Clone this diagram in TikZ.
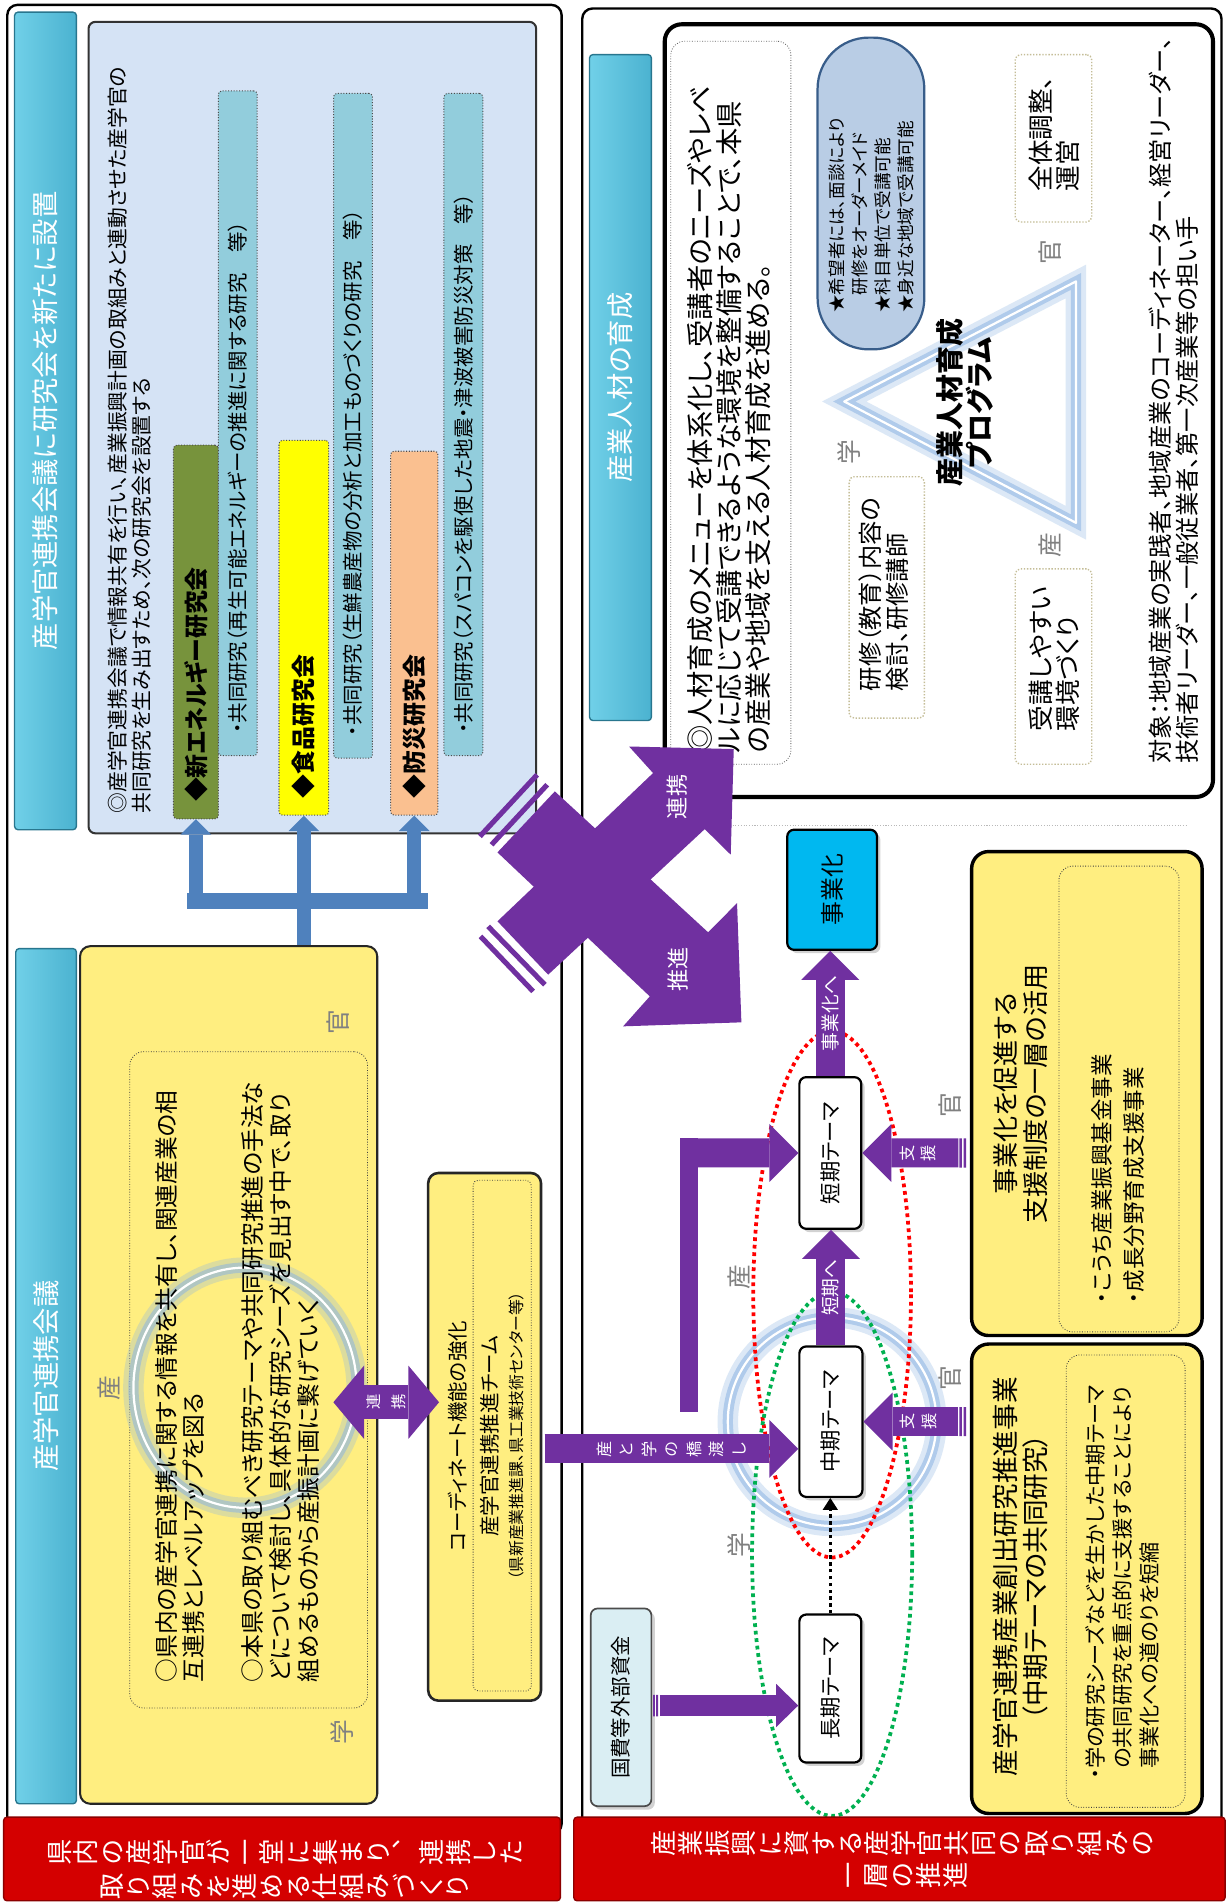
\documentclass[tikz,border=0pt]{standalone}
\usepackage{fontspec}
\setmainfont{Noto Sans CJK JP}[RawFeature=+palt]
\newfontfamily\tatefont{Noto Sans CJK JP}[RawFeature=+vert]
\usetikzlibrary{arrows.meta,calc,fit,shadows}
\definecolor{purp}{RGB}{112,48,160}
\definecolor{redBand}{RGB}{212,0,0}
\definecolor{redEdge}{RGB}{140,0,0}
\definecolor{hdrCyan}{RGB}{75,178,208}
\definecolor{hdrLight}{RGB}{112,208,232}
\definecolor{hdrEdge}{RGB}{40,118,142}
\definecolor{resBg}{RGB}{213,227,245}
\definecolor{resTxtBg}{RGB}{146,205,220}
\definecolor{newGreen}{RGB}{119,147,60}
\definecolor{foodYel}{RGB}{255,255,0}
\definecolor{disOrange}{RGB}{250,192,144}
\definecolor{paleYel}{RGB}{255,238,128}
\definecolor{steel}{RGB}{79,129,189}
\definecolor{capsuleBg}{RGB}{185,205,229}
\definecolor{capsuleEdge}{RGB}{56,93,138}
\definecolor{bizCyan}{RGB}{0,184,240}
\definecolor{fundBg}{RGB}{218,238,243}
\definecolor{glowBlue}{RGB}{141,180,226}
\definecolor{dotRed}{RGB}{255,0,0}
\definecolor{dotGreen}{RGB}{0,176,80}
\definecolor{tanDot}{RGB}{196,189,151}
\definecolor{markGray}{RGB}{128,128,128}
\newcommand\fsz[2]{\fontsize{#1}{#2}\selectfont\lineskiplimit=-20pt}

\begin{document}
\begin{tikzpicture}[x=0.025cm,y=-0.025cm,
  rot/.style={rotate=90,inner sep=0pt,align=center},
  panel/.style={draw=black,line width=1.4pt,rounded corners=6pt,fill=white,inner sep=0pt},
  hdrbar/.style={left color=hdrLight,right color=hdrCyan,draw=hdrEdge,line width=.8pt,rounded corners=2pt,inner sep=0pt},
  hdrtxt/.style={rot,text=white,font=\fsz{16}{18}},
  redband/.style={fill=redBand,draw=redEdge,line width=.8pt,rounded corners=2pt,inner sep=0pt},
  bandtxt/.style={rot,text=white,font=\tatefont\fsz{15.4}{15.6}},
  tatelbl/.style={rot,text=white,font=\tatefont\fsz{9.5}{12.5}},
  resbox/.style={fill=resBg,draw=black!80,line width=1.2pt,rounded corners=4pt,inner sep=0pt},
  subbox/.style={draw=black!70,densely dotted,line width=.6pt,rounded corners=2pt,inner sep=0pt},
  yelbox/.style={fill=paleYel,draw=black!85,line width=1.2pt,rounded corners=6pt,inner sep=0pt},
  supbox/.style={fill=paleYel,draw=black,line width=2pt,rounded corners=10pt,inner sep=0pt},
  dotbox/.style={draw=black!75,densely dotted,line width=.5pt,rounded corners=8pt,inner sep=0pt},
  tanbox/.style={draw=tanDot,densely dotted,line width=.8pt,rounded corners=3pt,inner sep=0pt},
  capsule/.style={fill=capsuleBg,draw=capsuleEdge,line width=1.3pt,rounded corners=30pt,inner sep=0pt},
  themebox/.style={fill=white,draw=black,line width=1.3pt,rounded corners=4pt,inner sep=0pt,
    drop shadow={shadow xshift=2pt,shadow yshift=-2pt,opacity=.35}},
  bizbox/.style={themebox,fill=bizCyan},
  fundbox/.style={themebox,fill=fundBg,draw=black!70,line width=1pt},
  partyLbl/.style={rot,text=markGray,font=\fsz{14.5}{15}},
  glowline/.style={preaction={draw=glowBlue,draw opacity=.3,line width=12pt},
    preaction={draw=glowBlue,draw opacity=.55,line width=6pt},draw=white,line width=1.3pt},
  purpArrow/.style={draw=purp,line width=17pt,-{Triangle[width=34pt,length=17pt,line width=0pt]}},
  fundArrow/.style={draw=purp,line width=12.6pt,-{Triangle[width=25.4pt,length=13pt,line width=0pt]}},
  dblArrow/.style={draw=purp,line width=20pt,{Triangle[width=43pt,length=18pt,line width=0pt]}-{Triangle[width=43pt,length=18pt,line width=0pt]}},
  steelArrow/.style={draw=steel,line width=8.5pt,-{Triangle[width=18pt,length=9pt,line width=0pt]}},
  dotArrow/.style={draw=black,line width=2pt,dash pattern=on 2pt off 2pt,-{Triangle[width=9pt,length=7pt,line width=0pt]}}]
\useasboundingbox (0,0) rectangle (1012,1568);

\node[panel,fit={(6,4)(463,1512)}] (panelL) {};
\node[panel,fit={(480,7)(1007,1512)}] (panelR) {};

\node[hdrbar,fit={(12,10)(63,684)}] (hdrRes) {};
\node[hdrtxt] (hdrResTxt) at (hdrRes.center) {産学官連携会議に研究会を新たに設置};
\node[resbox,fit={(73,18)(442,687)}] (resBox) {};
\node[rot,align=left,anchor=north west,font=\fsz{12.2}{14.2}] (resIntro) at (88.5,671)
  {◎産学官連携会議で情報共有を行い、産業振興計画の取組みと連動させた産学官の\\共同研究を生み出すため、次の研究会を設置する};
\node[subbox,fill=newGreen,fit={(143,367)(180,675)}] (resNew) {};
\node[rot,anchor=west,font=\bfseries\fsz{14}{14}] (resNewLbl) at ([yshift=10pt]resNew.south) {◆新エネルギー研究会};
\node[subbox,fill=resTxtBg,fit={(180,75)(212,623)}] (resNewTxt) {};
\node[rot,anchor=west,font=\fsz{12}{12}] (resNewTxtLbl) at ([yshift=13pt]resNewTxt.south) {・共同研究（再生可能エネルギーの推進に関する研究　等）};
\node[subbox,fill=foodYel,fit={(230,363)(271,672)}] (resFood) {};
\node[rot,anchor=west,font=\bfseries\fsz{14}{14}] (resFoodLbl) at ([yshift=10pt]resFood.south) {◆食品研究会};
\node[subbox,fill=resTxtBg,fit={(275,77)(307,625)}] (resFoodTxt) {};
\node[rot,anchor=west,font=\fsz{12}{12}] (resFoodTxtLbl) at ([yshift=13pt]resFoodTxt.south) {・共同研究（生鮮農産物の分析と加工ものづくりの研究　等）};
\node[subbox,fill=disOrange,fit={(322,372)(361,672)}] (resDis) {};
\node[rot,anchor=west,font=\bfseries\fsz{14}{14}] (resDisLbl) at ([yshift=10pt]resDis.south) {◆防災研究会};
\node[subbox,fill=resTxtBg,fit={(366,77)(398,623)}] (resDisTxt) {};
\node[rot,anchor=west,font=\fsz{12}{12}] (resDisTxtLbl) at ([yshift=13pt]resDisTxt.south) {・共同研究（スパコンを駆使した地震・津波被害防災対策　等）};

\node[hdrbar,fit={(13,782)(63,1487)}] (hdrConf) {};
\node[hdrtxt] (hdrConfTxt) at (hdrConf.center) {産学官連携会議};
\node[yelbox,fit={(66,780)(311,1487)}] (conf) {};
\node[dotbox,fit={(107,867)(303,1408)}] (confInner) {};
\draw[glowline] (202,1144) ellipse [x radius=92,y radius=99];
\node[rot,align=left,anchor=north west,font=\fsz{13.9}{16}] (confAim1) at (127.5,1387)
  {○県内の産学官連携に関する情報を共有し、関連産業の相\\互連携とレベルアップを図る};
\node[rot,align=left,anchor=north west,font=\fsz{13.9}{16.5}] (confAim2) at (198.5,1387)
  {○本県の取り組むべき研究テーマや共同研究推進の手法な\\どについて検討し、具体的な研究シーズを見出す中で、取り\\組めるものから産振計画に繋げていく};
\node[partyLbl] (confInd) at (90,1144) {産};
\node[partyLbl] (confGov) at (279,843) {官};
\node[partyLbl] (confAca) at (282,1428) {学};

\coordinate (busBase) at (0,749);
\fill[steel] (154,736) rectangle (353,749);
\draw[steelArrow] (resNew.south |- busBase) -- (resNew.south);
\draw[steelArrow] (resFood.south |- conf.north) -- (resFood.south);
\draw[steelArrow] (resDis.south |- busBase) -- (resDis.south);

\node[yelbox,line width=1.5pt,fit={(353,967)(446,1402)}] (coord) {};
\node[dotbox,rounded corners=3pt,fit={(390,973)(438,1394)}] (coordInner) {};
\node[rot,font=\fsz{12}{12}] (coordT1) at (377,1184) {コーディネート機能の強化};
\node[rot,font=\fsz{12}{12}] (coordT2) at (404,1184) {産学官連携推進チーム};
\node[rot,font=\fsz{9.3}{10}] (coordT3) at (426,1184) {（県新産業推進課、県工業技術センター等）};

\coordinate (linkY) at (0,1156);
\draw[dblArrow] ($(conf.east |- linkY)+(-37,0)$) -- ($(coord.west |- linkY)+(10,0)$)
  node[midway,tatelbl,font=\tatefont\fsz{9}{15}] (lblLink) {連\\携};

\node[redband,fit={(3,1498)(462,1567)}] (bandL) {};
\node[bandtxt] (bandL1) at (235,1527) {県\\内\\の\\産\\学\\官\\が\\一\\堂\\に\\集\\ま\\り\\、\\連\\携\\し\\た};
\node[bandtxt] (bandL2) at (235,1555) {取\\り\\組\\み\\を\\進\\め\\る\\仕\\組\\み\\づ\\く\\り};

\node[hdrbar,fit={(486,45)(537,594)}] (hdrHR) {};
\node[hdrtxt] (hdrHRTxt) at (hdrHR.center) {産業人材の育成};
\node[draw=black,line width=2.4pt,rounded corners=10pt,fill=white,inner sep=0pt,fit={(548,20)(1000,657)}] (hrBox) {};
\node[dotbox,draw=black!60,fit={(553,34)(652,630)}] (hrTxtBox) {};
\node[rot,align=left,anchor=north west,font=\fsz{16}{17}] (hrAim) at (566,621)
  {◎人材育成のメニューを体系化し、受講者のニーズやレベ\\ルに応じて受講できるような環境を整備することで、本県\\の産業や地域を支える人材育成を進める。};
\node[capsule,fit={(674,31)(762,288)}] (hrCapsule) {};
\node[rot,align=left,anchor=north west,font=\fsz{10.3}{13.5}] (hrCapsuleTxt) at (683,258)
  {★希望者には、面談により\\\hspace*{1em}研修をオーダーメイド\\★科目単位で受講可能\\★身近な地域で受講可能};
\draw[glowline,line join=round] (696,331) -- (887,232) -- (887,431) -- cycle;
\node[rot,font=\bfseries\fsz{16.4}{17.5}] (hrProg) at (795,332) {産業人材育成\\プログラム};
\node[partyLbl] (hrAca) at (700,373) {学};
\node[partyLbl] (hrGov) at (866,208) {官};
\node[partyLbl] (hrInd) at (866,449) {産};
\node[tanbox,fit={(700,393)(762,592)}] (hrTeach) {};
\node[rot,align=left,anchor=north west,font=\fsz{14.2}{15.6}] (hrTeachTxt) at (708,570) {研修（教育）内容の\\検討、研修講師};
\node[tanbox,fit={(837,45)(900,183)}] (hrAdmin) {};
\node[rot,align=left,anchor=north west,font=\fsz{15}{15.6}] (hrAdminTxt) at (848,158) {全体調整、\\運営};
\node[tanbox,fit={(837,469)(900,630)}] (hrEnv) {};
\node[rot,align=left,anchor=north west,font=\fsz{15}{15.6}] (hrEnvTxt) at (848,603) {受講しやすい\\環境づくり};
\node[rot,align=left,anchor=north west,font=\fsz{14.2}{15.6}] (hrTarget) at (947,630)
  {対象：地域産業の実践者、地域産業のコーディネーター、経営リーダー、\\技術者リーダー、一般従業者、第一次産業等の担い手};

\draw[gray!55,densely dotted,line width=.6pt] (604,680.4) -- (978,680.4);

\draw[glowline] (686,1172) circle [radius=86];
\draw[dotRed,line width=2.2pt,dash pattern=on 2.2pt off 2.2pt] (686,1067) ellipse [x radius=65,y radius=217];
\draw[dotGreen,line width=2.2pt,dash pattern=on 2.2pt off 2.2pt] (686,1281) ellipse [x radius=66,y radius=216];

\node[bizbox,fit={(649,684)(723,783)}] (biz) {};
\node[rot,font=\fsz{14}{14}] (bizTxt) at (biz.center) {事業化};
\node[themebox,fit={(659,888)(710,1013)}] (short) {};
\node[rot,font=\fsz{12.5}{13}] (shortTxt) at (short.center) {短期テーマ};
\node[themebox,fit={(659,1110)(711,1234)}] (mid) {};
\node[rot,font=\fsz{12.5}{13}] (midTxt) at (mid.center) {中期テーマ};
\node[themebox,fit={(659,1331)(710,1453)}] (long) {};
\node[rot,font=\fsz{12.5}{13}] (longTxt) at (long.center) {長期テーマ};
\node[fundbox,fit={(487,1326)(537,1489)}] (fund) {};
\node[rot,font=\fsz{12}{12}] (fundTxt) at (fund.center) {国費等外部資金};
\node[partyLbl] (bizGov1) at (783,911) {官};
\node[partyLbl] (bizGov2) at (783,1136) {官};
\node[partyLbl] (bizInd) at (609,1053) {産};
\node[partyLbl] (bizAca) at (609,1274) {学};

\node[supbox,fit={(801,702)(991,1101)}] (supBiz) {};
\node[dotbox,fit={(873,714)(972,1098)}] (supBizInner) {};
\node[rot,font=\fsz{15.3}{17.8}] (supBizTitle) at (841.5,902) {事業化を促進する\\支援制度の一層の活用};
\node[rot,align=left,anchor=north west,font=\fsz{13.2}{18.5}] (supBizItems) at (900,1075) {・こうち産業振興基金事業\\・成長分野育成支援事業};
\node[supbox,fit={(801,1108)(991,1495)}] (supJoint) {};
\node[dotbox,fit={(879,1117)(977,1490)}] (supJointInner) {};
\node[rot,font=\fsz{15.6}{17.8}] (supJointTitle) at (841.5,1300) {産学官連携産業創出研究推進事業\\（中期テーマの共同研究）};
\node[rot,align=left,anchor=north west,font=\fsz{12.4}{15.6}] (supJointItems) at (895,1467)
  {・学の研究シーズなどを生かした中期テーマ\\\hspace*{.5em}の共同研究を重点的に支援することにより\\\hspace*{.5em}事業化への道のりを短縮};

\draw[purpArrow] (short.north) -- (short.north |- biz.south)
  node[midway,rot,text=white,font=\fsz{11}{11}] (lblToBiz) {事業化へ};
\draw[purpArrow] (mid.north) -- (mid.north |- short.south)
  node[midway,rot,text=white,font=\fsz{11}{11}] (lblToShort) {短期へ};
\draw[dotArrow] (long.north) -- (long.north |- mid.south);

\coordinate (bridgeS) at (449,1194.5);
\draw[purpArrow] (bridgeS) -- (mid.west |- bridgeS)
  node[midway,tatelbl,font=\tatefont\fsz{9.5}{13.2}] (lblBridge) {産\\と\\学\\の\\橋\\渡\\し};

\coordinate (elbowFoot) at (568,1164);
\coordinate (elbowTop) at (568,938.5);
\coordinate (elbow) at (561,950.5);
\draw[purp,line width=10pt] (elbowFoot) -- (elbowTop);
\draw[purpArrow] (elbow) -- (short.west);

\coordinate (supShortS) at (790,950.5);
\coordinate (supMidS) at (790,1172);
\draw[purpArrow] (supShortS) -- (short.east)
  node[pos=.42,tatelbl] (lblSupShort) {支\\援};
\fill[purp] (791,938.5) rectangle +(2,24) (794.5,938.5) rectangle +(2,24);
\draw[purpArrow] (supMidS) -- (mid.east)
  node[pos=.42,tatelbl] (lblSupMid) {支\\援};
\fill[purp] (791,1160) rectangle +(2,24) (794.5,1160) rectangle +(2,24);

\coordinate (fundS) at (544,1406);
\draw[fundArrow] (fundS) -- (long.west |- fundS);
\fill[purp] (538.4,1397.2) rectangle +(1.5,17.7) (541,1397.2) rectangle +(1.5,17.7);

\fill[purp] (410.1,702.7) -- (535.7,821.4) -- (513.7,846.1) -- (611.2,842.8) -- (607.6,744.5) -- (583.8,768.6) -- (457.4,652.4) -- cycle;
\fill[purp] (410.1,759.5) -- (538.4,637.3) -- (518.6,615.4) -- (604.9,617.5) -- (602.4,704.6) -- (581.0,683.5) -- (451.9,803.5) -- cycle;
\draw[purp,line width=3pt] (405.2,696.4) -- (451.1,646.9) (395.6,689.5) -- (442.8,638.7);
\draw[purp,line width=3pt] (402.4,763.7) -- (449.2,811.8) (396.1,771.9) -- (439.5,817.3);
\node[rot,text=white,font=\fsz{13}{13}] (xLink) at (558,657) {連携};
\node[rot,text=white,font=\fsz{13}{13}] (xPush) at (559,799) {推進};

\node[redband,fit={(473,1498)(1010,1567)}] (bandR) {};
\node[bandtxt] (bandR1) at (744,1520) {産\\業\\振\\興\\に\\資\\す\\る\\産\\学\\官\\共\\同\\の\\取\\り\\組\\み\\の};
\node[bandtxt] (bandR2) at (748,1546) {一\\層\\の\\推\\進};
\end{tikzpicture}
\end{document}
